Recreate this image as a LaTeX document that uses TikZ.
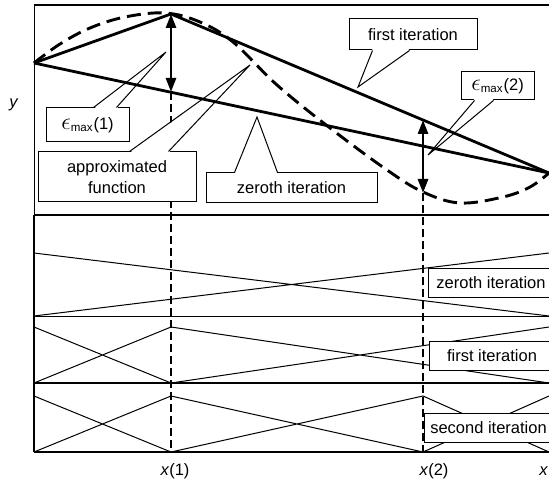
\documentclass[tikz,border=0pt]{standalone}
\usepackage{fontspec}
\setmainfont{Liberation Sans}
\usetikzlibrary{arrows.meta,calc}

% white speech pointer: base a, base b, tip, shift into the box
\newcommand\calloutptr[4]{%
  \fill[white] ($(#1)+(0,#4)$) -- (#3) -- ($(#2)+(0,#4)$) -- cycle;
  \draw[line width=0.5pt] (#1) -- (#3) -- (#2);}

\begin{document}
\begin{tikzpicture}[x=0.5pt,y=-0.5pt,
    font=\fontsize{8.25}{10.5}\selectfont,
    iter/.style={line width=1.4pt, line join=round},
    approx/.style={line width=1.45pt, dash pattern=on 7pt off 3.5pt},
    hat/.style={line width=0.5pt},
    guide/.style={line width=0.8pt, dash pattern=on 4pt off 2pt},
    errarrow/.style={line width=1.4pt,
      {Triangle[length=7pt,width=5pt]}-{Triangle[length=7pt,width=5pt]}},
    label/.style={rectangle, draw, line width=0.5pt, fill=white,
      align=center, inner sep=0pt},
    tag/.style={label, anchor=west, minimum height=14.5pt}
  ]
  \useasboundingbox (0,0) rectangle (549,480);

  % knots of the approximation
  \coordinate (k0) at (34,63);
  \coordinate (k1) at (171,14);
  \coordinate (k2) at (549,173);
  \coordinate (z1) at (171,92);
  \coordinate (f2) at (423,120);
  \coordinate (a2) at (423,193);

  % frame and panels
  \draw[line width=0.85pt] (34,5) -- (560,5);
  \draw[line width=0.5pt] (34,5) -- (34,215);
  \draw[line width=1.2pt] (34,215) -- (560,215);
  \draw[line width=0.5pt] (34,316) -- (560,316);
  \draw[line width=0.8pt] (34,383) -- (560,383);
  \draw[line width=0.8pt] (34,452) -- (560,452);
  \draw[line width=0.8pt] (34,215) -- (34,452);

  % basis functions
  \draw[hat] (34,253) -- (549,316) (34,316) -- (549,253);
  \draw[hat] (34,327) -- (171,383) -- (549,327)
             (34,383) -- (171,327) -- (549,383);
  \draw[hat] (34,396) -- (171,452) -- (423,396) -- (549,452)
             (34,452) -- (171,396) -- (423,452) -- (549,396);

  \draw[guide] (z1) -- (171,452);
  \draw[guide] (a2) -- (423,452);

  \node[tag, minimum width=62.5pt] at (428,282.5) {zeroth iteration};
  \node[tag, minimum width=62.5pt] at (429,356) {first iteration};
  \node[tag, minimum width=64pt] at (424,427.5) {second iteration};

  % callouts
  \node[label, minimum width=41.5pt, minimum height=17pt] (emaxa) at (87.5,125)
    {{\large$\epsilon$}\textsubscript{max}(1)};
  \node[label, minimum width=79pt, minimum height=25pt] (afun) at (117,177)
    {approximated\\function};
  \node[label, minimum width=85.5pt, minimum height=15pt] (zeroth) at (291.5,188)
    {zeroth iteration};
  \node[label, minimum width=64pt, minimum height=15.5pt] (first) at (413,34.5)
    {first iteration};
  \node[label, minimum width=36.5pt, minimum height=14pt] (emaxb) at (497.5,86)
    {{\large$\epsilon$}\textsubscript{max}(2)};

  \calloutptr{$(emaxa.north west)+(48,0)$}{$(emaxa.north west)+(71,0)$}{166,52}{1.5}
  \calloutptr{$(afun.north west)+(92,0)$}{$(afun.north west)+(131,0)$}{250,65}{1.5}
  \calloutptr{$(zeroth.north west)+(29,0)$}{$(zeroth.north west)+(72,0)$}{257,117}{1.5}
  \calloutptr{$(first.south west)+(24,0)$}{$(first.south west)+(61,0)$}{358,87}{-1.5}
  \calloutptr{$(emaxb.south west)+(14,0)$}{$(emaxb.south west)+(33,0)$}{428,155}{-1.5}

  % approximated function and iterations
  \draw[approx] plot[smooth, tension=0.6] coordinates {(34,63) (60,44) (90,28)
    (125,17) (165,13) (200,22) (233,42) (277,85) (330,128) (387,170)
    (423,192) (460,203) (503,197) (530,187) (549,173)};
  \draw[iter] (k0) -- (k2);
  \draw[iter] (k0) -- (k1) -- (k2);

  \draw[errarrow] (k1) -- (z1);
  \draw[errarrow] (f2) -- (a2);

  % axis labels
  \node at (14,105) {\textit{y}};
  \node at (175,471) {\textit{x}(1)};
  \node at (434,471) {\textit{x}(2)};
  \node[anchor=west, inner sep=0pt] at (539,471) {\textit{x}};
\end{tikzpicture}
\end{document}
